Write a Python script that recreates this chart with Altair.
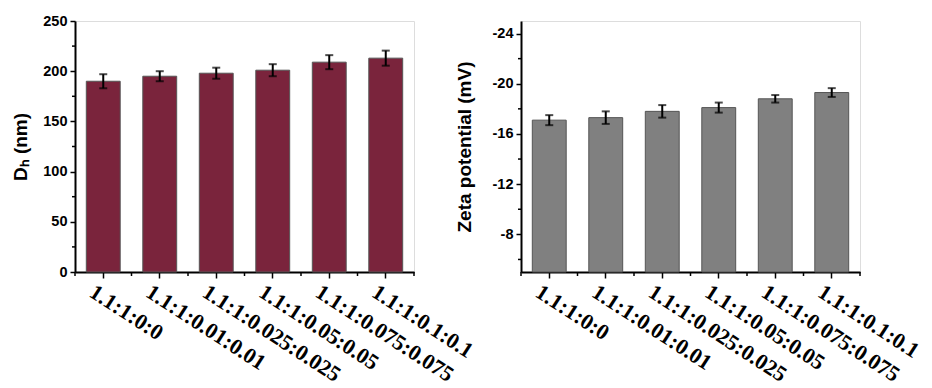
import altair as alt
import pandas as pd

# ---------------- data ----------------
ratios = ["1.1:1:0:0", "1.1:1:0.01:0.01", "1.1:1:0.025:0.025",
          "1.1:1:0.05:0.05", "1.1:1:0.075:0.075", "1.1:1:0.1:0.1"]
dh_mean = [190, 195, 198, 201, 209, 213]
dh_err = [7, 5, 5.5, 6, 7, 7.5]
zeta_mean = [-17.1, -17.3, -17.8, -18.1, -18.8, -19.3]
zeta_err = [0.4, 0.5, 0.5, 0.4, 0.3, 0.35]
zeta_base = -5

dh_major = [0, 50, 100, 150, 200, 250]
dh_minor = [25, 75, 125, 175, 225]
zeta_major = [-24, -20, -16, -12, -8]
zeta_minor = [-22, -18, -14, -10, -6]

W, H = 339, 251
MAROON = "#7a243c"
GRAY = "#808080"

label_font = "Liberation Sans"
cat_font = "Liberation Serif"


def make_panel(means, errs, base, color, y_scale, y_major, y_minor, y_title, title_pad):
    df = pd.DataFrame({
        "ratio": ratios,
        "mean": means,
        "lo": [m - e for m, e in zip(means, errs)],
        "hi": [m + e for m, e in zip(means, errs)],
        "base": [base] * len(ratios),
    })
    caps = pd.DataFrame({
        "ratio": ratios + ratios,
        "v": list(df["lo"]) + list(df["hi"]),
    })
    minor = pd.DataFrame({"v": y_minor})

    xscale = alt.Scale(domain=ratios, paddingInner=0, paddingOuter=0)
    x_axis = alt.Axis(
        title=None, labelAngle=33, labelAlign="left", labelBaseline="top",
        labelFont=cat_font, labelFontWeight="bold",
        labelFontSize=22, labelColor="black", labelPadding=3, labelOffset=-6,
        labelLimit=400, tickColor="black", tickSize=6, tickWidth=1.5,
        domainColor="black", domainWidth=2, grid=False,
    )
    y_axis = alt.Axis(
        title=y_title, values=y_major, grid=False,
        labelExpr="'' + datum.value",
        labelFont=label_font, labelFontWeight="bold", labelFontSize=14.5,
        labelColor="black", labelPadding=3, tickColor="black", tickSize=5,
        tickWidth=1.5, domainColor="black", domainWidth=2,
        titleFont=label_font, titleFontWeight="bold", titleFontSize=19,
        titleColor="black", titlePadding=title_pad,
    )

    bars = alt.Chart(df).mark_bar(
        color=color, stroke="#555555", strokeWidth=1,
        width=alt.RelativeBandSize(0.6),
    ).encode(
        x=alt.X("ratio:N", sort=ratios, scale=xscale, axis=x_axis),
        y=alt.Y("mean:Q", scale=y_scale, axis=y_axis),
        y2="base:Q",
    )
    err = alt.Chart(df).mark_rule(color="black", strokeWidth=2).encode(
        x=alt.X("ratio:N", sort=ratios),
        y="lo:Q", y2="hi:Q",
    )
    cap = alt.Chart(caps).mark_tick(color="black", thickness=2, size=8).encode(
        x=alt.X("ratio:N", sort=ratios),
        y="v:Q",
    )
    yminor = alt.Chart(minor).mark_rule(color="black", strokeWidth=1.5).encode(
        y="v:Q", x=alt.value(-3), x2=alt.value(0),
    )
    xminor0 = alt.Chart(df).mark_rule(color="black", strokeWidth=1.5).encode(
        x=alt.X("ratio:N", sort=ratios, bandPosition=0),
        y=alt.value(H), y2=alt.value(H + 4),
    )
    xminor1 = alt.Chart(df.tail(1)).mark_rule(color="black", strokeWidth=1.5).encode(
        x=alt.X("ratio:N", sort=ratios, bandPosition=1),
        y=alt.value(H), y2=alt.value(H + 4),
    )
    return alt.layer(bars, err, cap, yminor, xminor0, xminor1).properties(
        width=W, height=H
    )


left = make_panel(
    dh_mean, dh_err, 0, MAROON,
    alt.Scale(domain=[0, 250], nice=False, zero=False),
    dh_major, dh_minor, "D\u2095 (nm)", 12,
)
right = make_panel(
    zeta_mean, zeta_err, zeta_base, GRAY,
    alt.Scale(domain=[-25, -5], reverse=True, nice=False, zero=False),
    zeta_major, zeta_minor, "Zeta potential (mV)", 18,
)

chart = alt.hconcat(left, right, spacing=107, bounds="flush").properties(
    padding={"left": 3, "top": 4, "right": 0, "bottom": 0}
).configure_view(stroke=None).configure(background="white")

chart.save("out.html", embed_options={"renderer": "svg", "actions": False})
